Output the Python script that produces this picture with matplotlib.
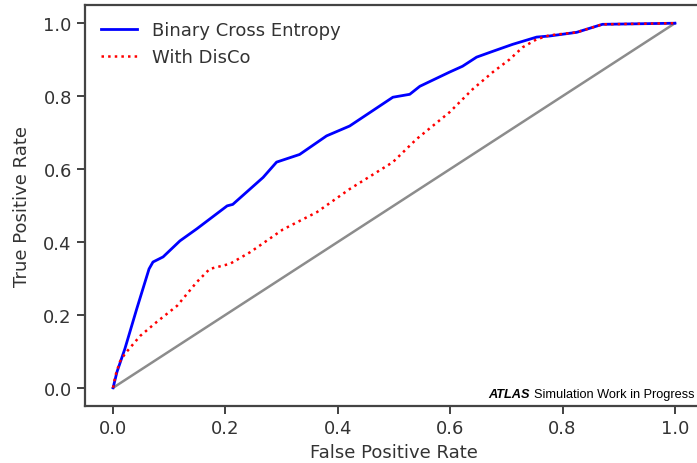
import matplotlib
matplotlib.use("Agg")
import matplotlib.pyplot as plt
import matplotlib.transforms as mtransforms

# ROC curve
fpr_bce = [0.0, 0.007, 0.021, 0.042, 0.064, 0.071, 0.089, 0.119, 0.149, 0.203, 0.213,
           0.267, 0.291, 0.332, 0.380, 0.421, 0.498, 0.528, 0.546, 0.599, 0.622, 0.647,
           0.676, 0.711, 0.754, 0.777, 0.825, 0.871, 1.0]
tpr_bce = [0.0, 0.044, 0.107, 0.216, 0.326, 0.345, 0.359, 0.403, 0.436, 0.499, 0.503,
           0.577, 0.619, 0.640, 0.691, 0.718, 0.797, 0.805, 0.827, 0.866, 0.882, 0.907,
           0.923, 0.942, 0.962, 0.965, 0.975, 0.997, 1.0]

fpr_disco = [0.0, 0.004, 0.012, 0.021, 0.048, 0.078, 0.114, 0.149, 0.172, 0.208, 0.244,
             0.261, 0.302, 0.363, 0.421, 0.498, 0.540, 0.599, 0.640, 0.676, 0.706, 0.729,
             0.754, 0.777, 0.825, 0.871, 1.0]
tpr_disco = [0.0, 0.033, 0.071, 0.093, 0.142, 0.181, 0.225, 0.290, 0.326, 0.340, 0.372,
             0.390, 0.434, 0.482, 0.545, 0.619, 0.682, 0.756, 0.819, 0.866, 0.901, 0.934,
             0.956, 0.967, 0.975, 0.997, 1.0]

txt = '#333333'
plt.rcParams['font.family'] = 'DejaVu Sans'

fig = plt.figure(figsize=(6.97, 4.64), dpi=100)
ax = fig.add_axes([85 / 697, 57 / 464, 618 / 697, 401 / 464])

ax.plot([0, 1], [0, 1], color='#8c8c8c', lw=1.8)
ax.plot(fpr_bce, tpr_bce, 'b', lw=2.0, label='Binary Cross Entropy')
ax.plot(fpr_disco, tpr_disco, color='red', ls=':', lw=1.8, label='With DisCo')

ax.set_xlim(-0.05, 1.05)
ax.set_ylim(-0.05, 1.05)
ax.set_xticks([0, 0.2, 0.4, 0.6, 0.8, 1.0])
ax.set_yticks([0, 0.2, 0.4, 0.6, 0.8, 1.0])
ax.tick_params(labelsize=13, colors=txt, length=6, width=1.3)
for s in ax.spines.values():
    s.set_color('#444444')
    s.set_linewidth(1.6)

ax.set_xlabel('False Positive Rate', fontsize=13, color=txt)
ax.set_ylabel('True Positive Rate', fontsize=13, color=txt, labelpad=9)

leg = ax.legend(loc='upper left', frameon=False, fontsize=13, handlelength=2.0)
for t in leg.get_texts():
    t.set_color(txt)

# ATLAS label, bottom right
t2 = ax.text(1.035, -0.025, 'Simulation Work in Progress', ha='right', va='baseline',
             fontsize=9.2, family='Liberation Sans', color='black')
fig.canvas.draw()
w = t2.get_window_extent().width
off = mtransforms.offset_copy(ax.transData, fig=fig, x=-w - 4, y=0, units='dots')
ax.text(1.035, -0.025, 'ATLAS', ha='right', va='baseline', fontsize=9.2,
        family='Liberation Sans', weight='bold', style='italic', color='black',
        transform=off)

fig.savefig('out.png', dpi=100)
